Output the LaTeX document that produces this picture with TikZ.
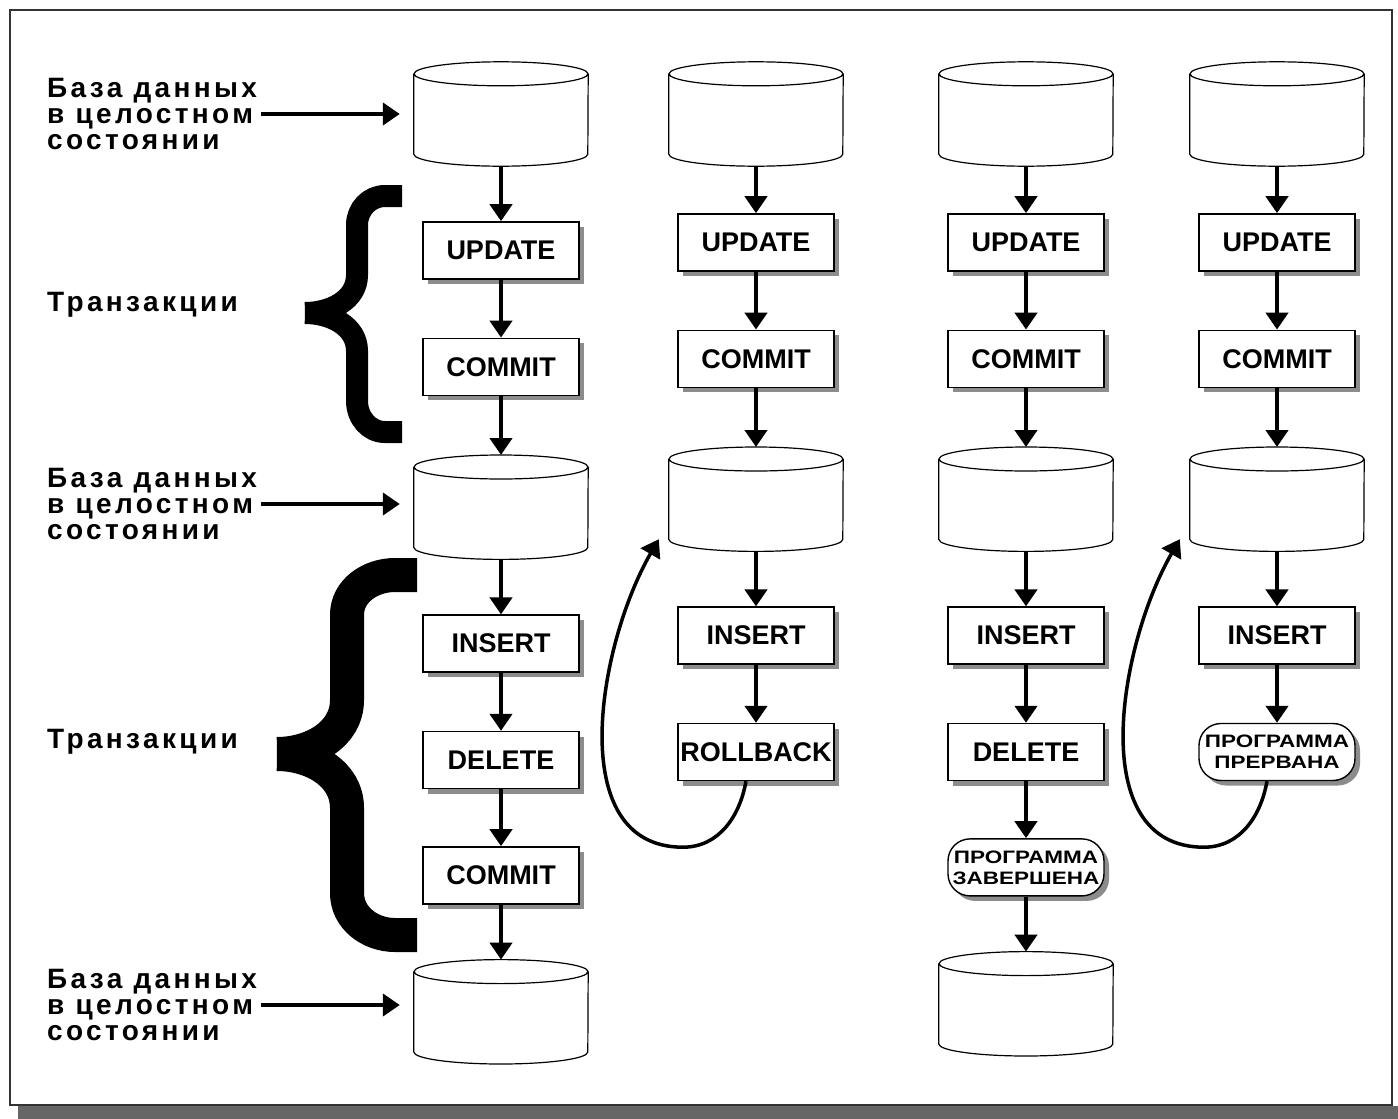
\documentclass[tikz,border=0pt]{standalone}
\usepackage{fontspec}
\setmainfont{Liberation Sans}
\newfontfamily\lblfont{Liberation Sans}[LetterSpace=12]
\newfontfamily\progfont{Liberation Sans}[FakeStretch=1.25]
\usetikzlibrary{arrows.meta,shapes.misc,positioning,shadows}

\begin{document}
\begin{tikzpicture}[x=1pt, y=-1pt,
  >={Triangle[width=22pt,length=17pt]},
  dbase/.style={rectangle, minimum width=174pt, minimum height=104pt, inner sep=0pt},
  dbline/.style={line width=1.2pt},
  sqlbox/.style={draw, fill=white, line width=1.4pt, minimum width=156pt, minimum height=57pt, inner sep=0pt, font=\bfseries\fontsize{27}{27}\selectfont, drop shadow={shadow xshift=5pt, shadow yshift=-5pt, fill=black!45, opacity=1}},
  progbox/.style={sqlbox, rounded corners=22pt, align=center, font=\progfont\bfseries\fontsize{18}{21}\selectfont},
  statelbl/.style={anchor=west, align=left, inner sep=4pt, font=\lblfont\bfseries\fontsize{28}{26}\selectfont},
  flow/.style={->, line width=4.5pt},
  brace/.style={line width=#1}
]
\useasboundingbox (0,0) rectangle (1398,1119);
\fill[white] (0,0) rectangle (1398,1119);
\fill[black!60] (18,1106) rectangle (1398,1119);
\draw[line width=1.5pt, black!80] (10,10) rectangle (1392,1105);

% left labels
\node[statelbl] (lblA1) at (43,114) {База данных\\в целостном\\состоянии};
\node[statelbl] (trA1) at (43,305) {Транзакции};
\node[statelbl] (lblA2) at (43,504) {База данных\\в целостном\\состоянии};
\node[statelbl] (trA2) at (43,742) {Транзакции};
\node[statelbl] (lblA3) at (43,1005) {База данных\\в целостном\\состоянии};

% column 1
\node[dbase] (dbA1) at (501,114) {};
\node[sqlbox, below=55pt of dbA1] (updA) {UPDATE};
\node[sqlbox, below=58pt of updA] (comA) {COMMIT};
\node[dbase, below=59pt of comA] (dbA2) {};
\node[sqlbox, below=55pt of dbA2] (insA) {INSERT};
\node[sqlbox, below=58pt of insA] (delA) {DELETE};
\node[sqlbox, below=57pt of delA] (comA2) {COMMIT};
\node[dbase, below=55pt of comA2] (dbA3) {};

% column 2
\node[dbase] (dbB1) at (756,114) {};
\node[sqlbox, below=47pt of dbB1] (updB) {UPDATE};
\node[sqlbox, below=58pt of updB] (comB) {COMMIT};
\node[dbase, below=59pt of comB] (dbB2) {};
\node[sqlbox, below=55pt of dbB2] (insB) {INSERT};
\node[sqlbox, below=58pt of insB] (rbB) {ROLLBACK};

% column 3
\node[dbase] (dbC1) at (1026,114) {};
\node[sqlbox, below=47pt of dbC1] (updC) {UPDATE};
\node[sqlbox, below=58pt of updC] (comC) {COMMIT};
\node[dbase, below=59pt of comC] (dbC2) {};
\node[sqlbox, below=55pt of dbC2] (insC) {INSERT};
\node[sqlbox, below=58pt of insC] (delC) {DELETE};
\node[progbox, below=57pt of delC] (endC) {ПРОГРАММА\\ЗАВЕРШЕНА};
\node[dbase, below=55pt of endC] (dbC3) {};

% column 4
\node[dbase] (dbD1) at (1277,114) {};
\node[sqlbox, below=47pt of dbD1] (updD) {UPDATE};
\node[sqlbox, below=58pt of updD] (comD) {COMMIT};
\node[dbase, below=59pt of comD] (dbD2) {};
\node[sqlbox, below=55pt of dbD2] (insD) {INSERT};
\node[progbox, below=58pt of insD] (brkD) {ПРОГРАММА\\ПРЕРВАНА};

% cylinders
\foreach \db in {dbA1,dbA2,dbA3,dbB1,dbB2,dbC1,dbC2,dbC3,dbD1,dbD2}
  \draw[dbline] ([yshift=-12pt]\db.north) ellipse[x radius=87pt, y radius=12pt]
    ([yshift=-12pt]\db.north west) -- ([yshift=12pt]\db.south west)
    arc[start angle=180, end angle=360, x radius=87pt, y radius=12pt]
    -- ([yshift=-12pt]\db.north east);

% arrows
\draw[flow, shorten >=14pt] (lblA1.east) -- (lblA1.east -| dbA1.west);
\draw[flow, shorten >=14pt] (lblA2.east) -- (lblA2.east -| dbA2.west);
\draw[flow, shorten >=14pt] (lblA3.east) -- (lblA3.east -| dbA3.west);
\draw[flow] (dbA1) -- (updA);
\draw[flow] (updA) -- (comA);
\draw[flow] (comA) -- (dbA2);
\draw[flow] (dbA2) -- (insA);
\draw[flow] (insA) -- (delA);
\draw[flow] (delA) -- (comA2);
\draw[flow] (comA2) -- (dbA3);
\draw[flow] (dbB1) -- (updB);
\draw[flow] (updB) -- (comB);
\draw[flow] (comB) -- (dbB2);
\draw[flow] (dbB2) -- (insB);
\draw[flow] (insB) -- (rbB);
\draw[flow] (dbC1) -- (updC);
\draw[flow] (updC) -- (comC);
\draw[flow] (comC) -- (dbC2);
\draw[flow] (dbC2) -- (insC);
\draw[flow] (insC) -- (delC);
\draw[flow] (delC) -- (endC);
\draw[flow] (endC) -- (dbC3);
\draw[flow] (dbD1) -- (updD);
\draw[flow] (updD) -- (comD);
\draw[flow] (comD) -- (dbD2);
\draw[flow] (dbD2) -- (insD);
\draw[flow] (insD) -- (brkD);

% back loops
\draw[flow, line width=3.5pt] ([xshift=-10pt]rbB.south) to[out=-100,in=0] ++(-63,66) to[out=180,in=-120] ([xshift=-10pt,yshift=-40pt]dbB2.west);
\draw[flow, line width=3.5pt] ([xshift=-10pt]brkD.south) to[out=-100,in=0] ++(-63,66) to[out=180,in=-120] ([xshift=-10pt,yshift=-40pt]dbD2.west);

% braces
\draw[brace=22pt] (402,196) -- (385,196) to[out=180,in=90] (357,225) -- (357,275) to[out=-90,in=0] (305,313);
\draw[brace=22pt] (305,313) to[out=0,in=90] (357,351) -- (357,401) to[out=-90,in=180] (385,432) -- (402,432);
\draw[brace=34pt] (417,575) -- (395,575) to[out=180,in=90] (347,615) -- (347,700) to[out=-90,in=0] (277,754);
\draw[brace=34pt] (277,754) to[out=0,in=90] (347,808) -- (347,893) to[out=-90,in=180] (395,935) -- (417,935);
\end{tikzpicture}
\end{document}
